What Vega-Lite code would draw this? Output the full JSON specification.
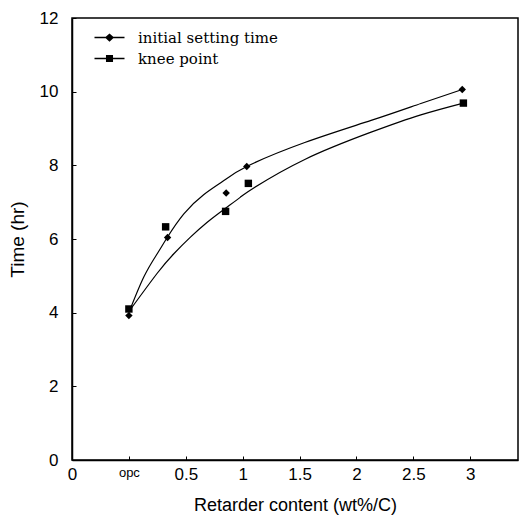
{
  "$schema": "https://vega.github.io/schema/vega-lite/v6.json",
  "width": 446,
  "height": 442,
  "autosize": {"type": "none"},
  "padding": {"left": 72, "top": 18, "right": 5, "bottom": 60},
  "background": "white",
  "config": {
    "view": {"stroke": "black", "strokeWidth": 1.5},
    "axis": {
      "grid": false,
      "domainColor": "black",
      "domainWidth": 1.5,
      "tickColor": "black",
      "labelColor": "black",
      "titleColor": "black",
      "labelFont": "Liberation Sans",
      "titleFont": "Liberation Sans",
      "titleFontWeight": "normal"
    }
  },
  "datasets": {
    "points": [
      {"x": 0, "y": 3.92, "series": "initial setting time"},
      {"x": 0.34, "y": 6.04, "series": "initial setting time"},
      {"x": 0.855, "y": 7.25, "series": "initial setting time"},
      {"x": 1.036, "y": 7.97, "series": "initial setting time"},
      {"x": 2.93, "y": 10.06, "series": "initial setting time"},
      {"x": 0, "y": 4.1, "series": "knee point"},
      {"x": 0.323, "y": 6.33, "series": "knee point"},
      {"x": 0.85, "y": 6.75, "series": "knee point"},
      {"x": 1.05, "y": 7.51, "series": "knee point"},
      {"x": 2.94, "y": 9.69, "series": "knee point"}
    ],
    "curves": [
      {"x": 0, "y": 4.0, "series": "initial setting time"},
      {"x": 0.133, "y": 4.98, "series": "initial setting time"},
      {"x": 0.249, "y": 5.6, "series": "initial setting time"},
      {"x": 0.337, "y": 6.04, "series": "initial setting time"},
      {"x": 0.483, "y": 6.68, "series": "initial setting time"},
      {"x": 0.657, "y": 7.2, "series": "initial setting time"},
      {"x": 0.832, "y": 7.58, "series": "initial setting time"},
      {"x": 1.036, "y": 7.97, "series": "initial setting time"},
      {"x": 1.546, "y": 8.62, "series": "initial setting time"},
      {"x": 2.129, "y": 9.22, "series": "initial setting time"},
      {"x": 2.566, "y": 9.68, "series": "initial setting time"},
      {"x": 2.93, "y": 10.06, "series": "initial setting time"},
      {"x": 0, "y": 4.03, "series": "knee point"},
      {"x": 0.249, "y": 5.07, "series": "knee point"},
      {"x": 0.395, "y": 5.6, "series": "knee point"},
      {"x": 0.541, "y": 6.05, "series": "knee point"},
      {"x": 0.686, "y": 6.45, "series": "knee point"},
      {"x": 0.847, "y": 6.83, "series": "knee point"},
      {"x": 0.978, "y": 7.13, "series": "knee point"},
      {"x": 1.094, "y": 7.38, "series": "knee point"},
      {"x": 1.546, "y": 8.16, "series": "knee point"},
      {"x": 2.129, "y": 8.9, "series": "knee point"},
      {"x": 2.566, "y": 9.37, "series": "knee point"},
      {"x": 2.94, "y": 9.69, "series": "knee point"}
    ]
  },
  "encoding": {
    "x": {
      "field": "x",
      "type": "quantitative",
      "scale": {"domain": [-0.5, 3.42], "nice": false, "zero": false},
      "axis": {
        "values": [-0.5, 0, 0.5, 1, 1.5, 2, 2.5, 3],
        "format": "~g",
        "labelExpr": "datum.value == -0.5 ? '0' : datum.value == 0 ? 'opc' : datum.label",
        "labelFontSize": {"condition": {"test": "datum.value == 0", "value": 13}, "value": 17},
        "labelFlush": false,
        "labelOverlap": false,
        "tickSize": -4,
        "labelPadding": 10,
        "title": "Retarder content  (wt%/C)",
        "titleFontSize": 18,
        "titlePadding": 14
      }
    },
    "y": {
      "field": "y",
      "type": "quantitative",
      "scale": {"domain": [0, 12], "nice": false},
      "axis": {
        "values": [0, 2, 4, 6, 8, 10, 12],
        "tickSize": -4,
        "labelPadding": 18,
        "labelFontSize": 17,
        "title": "Time  (hr)",
        "titleFontSize": 19,
        "titlePadding": 12
      }
    }
  },
  "layer": [
    {
      "data": {"name": "curves"},
      "mark": {"type": "line", "interpolate": "natural", "color": "black", "strokeWidth": 1.2},
      "encoding": {
        "detail": {"field": "series"}
      }
    },
    {
      "data": {"name": "points"},
      "mark": {"type": "point", "filled": true, "color": "black", "opacity": 1, "size": 55},
      "encoding": {
        "shape": {
          "field": "series",
          "type": "nominal",
          "scale": {"domain": ["initial setting time", "knee point"], "range": ["diamond", "square"]},
          "legend": null
        }
      }
    },
    {
      "data": {"name": "points"},
      "mark": {"type": "point", "filled": true, "color": "black", "opacity": 0},
      "encoding": {
        "shape": {
          "field": "series",
          "type": "nominal",
          "scale": {
            "domain": ["initial setting time", "knee point"],
            "range": [
              "M-2,-0.09H-0.5L0,-0.55L0.5,-0.09H2V0.09H0.5L0,0.55L-0.5,0.09H-2Z",
              "M-2,-0.09H-0.47V-0.47H0.47V-0.09H2V0.09H0.47V0.47H-0.47V0.09H-2Z"
            ]
          },
          "legend": {
            "title": null,
            "orient": "none",
            "legendX": 30,
            "legendY": 12,
            "padding": 0,
            "labelFont": "DejaVu Serif",
            "labelFontSize": 15,
            "labelColor": "black",
            "symbolSize": 225,
            "symbolOpacity": 1,
            "symbolFillColor": "black",
            "symbolStrokeWidth": 0,
            "rowPadding": 5,
            "labelOffset": 21,
            "encode": {
              "symbols": {
                "update": {
                  "fill": {"value": "black"},
                  "opacity": {"value": 1},
                  "fillOpacity": {"value": 1}
                }
              }
            }
          }
        }
      }
    }
  ],
  "resolve": {"scale": {"shape": "independent"}, "legend": {"shape": "independent"}}
}
